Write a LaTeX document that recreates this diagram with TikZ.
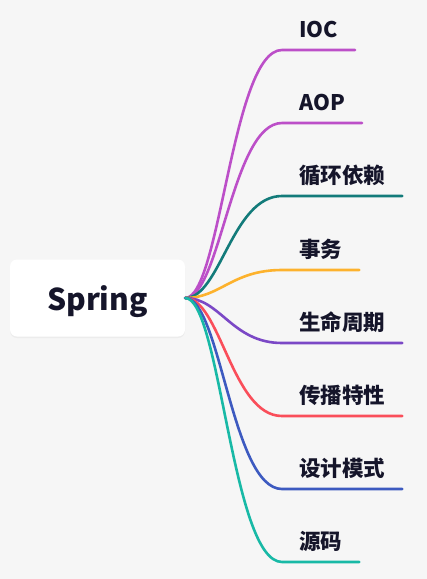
\documentclass[tikz,border=0pt]{standalone}
\usepackage{fontspec}
\setmainfont{Noto Sans CJK SC}
\usetikzlibrary{shadows}
\definecolor{bgc}{HTML}{F6F6F6}
\definecolor{txtc}{HTML}{15152A}
\definecolor{cmagenta}{HTML}{BC4FC8}
\definecolor{cteal}{HTML}{137B7A}
\definecolor{camber}{HTML}{FDB22D}
\definecolor{cpurple}{HTML}{7B48C6}
\definecolor{cred}{HTML}{FA4E5A}
\definecolor{cblue}{HTML}{3D5AC0}
\definecolor{cgreen}{HTML}{18B9A6}
\tikzset{
	rootbox/.style = {fill = white, rounded corners = 7pt, minimum width = 175pt, minimum height = 77pt, text height = 30pt, text depth = 6pt, text = txtc, font = \fontsize{30}{34}\selectfont\bfseries, drop shadow = {opacity = 0.08, shadow xshift = 0pt, shadow yshift = -1.5pt}},
	topic/.style = {anchor = south west, inner xsep = 17pt, inner ysep = 0pt, text height = 16pt, text depth = 12pt, text = txtc, font = \fontsize{21.5}{25}\selectfont\bfseries},
	branch/.style = {line width = 2.6pt, line cap = round}}
\begin{document}
\begin{tikzpicture}[x = 1pt, y = -1pt]
		\fill[bgc] (0, 0) rectangle (427, 579);
		\useasboundingbox (0, 0) rectangle (427, 579);
		\node[rootbox] (spring) at (97.5, 298) {Spring};
		\foreach \n/\txt/\y/\col in {ioc/IOC/50/cmagenta, aop/AOP/123/cmagenta, xhyl/循环依赖/196/cteal, sw/事务/270/camber,
			smzq/生命周期/343/cpurple, cbtx/传播特性/416/cred, sjms/设计模式/489/cblue, ym/源码/562/cgreen}{
			\node[topic] (\n) at (282, \y) {\txt};
			\draw[branch, \col] (spring.east) .. controls +(35, 0) and +(-50, 0) .. (\n.south west) -- (\n.south east);}
		\end{tikzpicture}
\end{document}
